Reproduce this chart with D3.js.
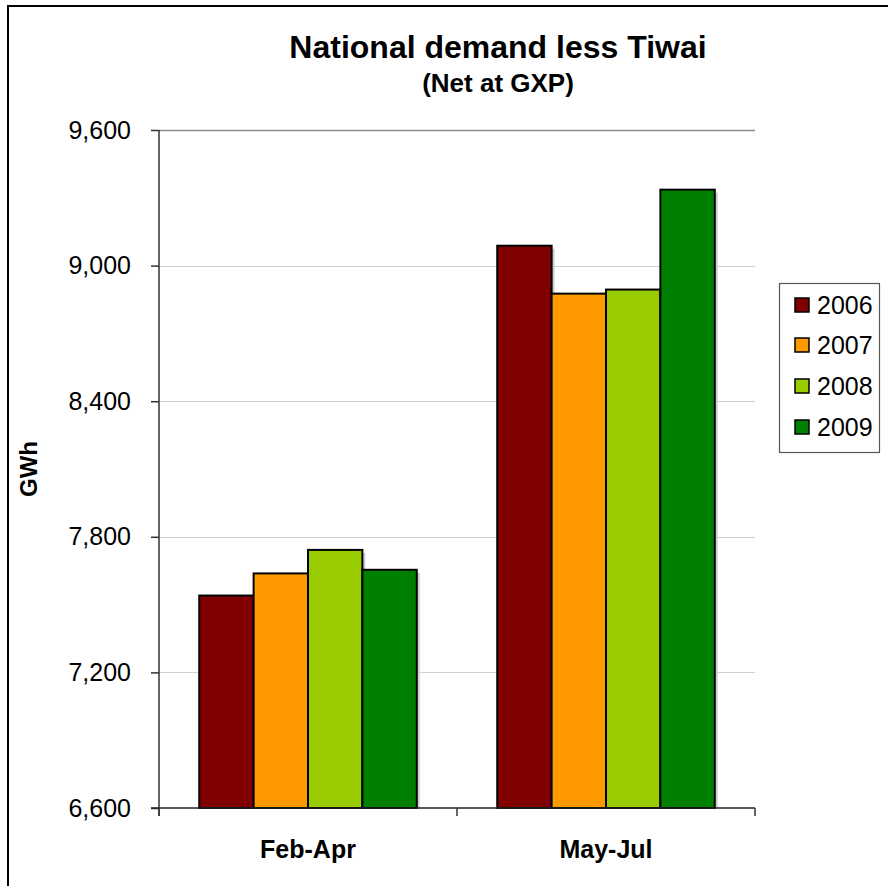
<!DOCTYPE html>
<html>
<head>
<meta charset="utf-8">
<script src="https://cdn.jsdelivr.net/npm/d3@7/dist/d3.min.js"></script>
<style>
  html, body { margin: 0; padding: 0; background: #fff; }
  svg { display: block; font-family: "Liberation Sans", Arial, sans-serif; }
</style>
</head>
<body>
<svg id="chart" width="888" height="886"></svg>
<script>
// Quarterly national demand (GWh), excluding Tiwai smelter load
const categories = ["Feb-Apr", "May-Jul"];
const years = ["2006", "2007", "2008", "2009"];
const febApr = [7540, 7638, 7742, 7654];
const mayJul = [9088, 8876, 8894, 9336];
const yTicks = [6600, 7200, 7800, 8400, 9000, 9600];
const yearColors = ["#800000", "#FF9900", "#99CC00", "#008000"];

const seriesByCategory = [febApr, mayJul];

const svg = d3.select("#chart");

// Outer chart frame
svg.append("rect")
  .attr("x", 8).attr("y", 6)
  .attr("width", 900).attr("height", 900)
  .attr("fill", "none").attr("stroke", "#000").attr("stroke-width", 2);

const plot = { left: 159, right: 755, top: 130, bottom: 808 };

const y = d3.scaleLinear()
  .domain([6600, 9600])
  .range([plot.bottom, plot.top]);

const x0 = d3.scaleBand()
  .domain(categories)
  .range([plot.left, plot.right])
  .padding(0);

const x1 = d3.scaleBand()
  .domain(years)
  .range([0, x0.bandwidth()])
  .paddingInner(0)
  .paddingOuter(0.74);

const color = d3.scaleOrdinal().domain(years).range(yearColors);

// Gridlines
svg.append("g")
  .selectAll("line")
  .data(yTicks.filter(t => t > 6600))
  .join("line")
  .attr("x1", plot.left).attr("x2", plot.right)
  .attr("y1", d => Math.round(y(d)) + 0.5).attr("y2", d => Math.round(y(d)) + 0.5)
  .attr("stroke", d => d === 9600 ? "#8c8c8c" : "#d0d0d0")
  .attr("stroke-width", d => d === 9600 ? 1.5 : 1);

// Bars (with a soft drop shadow)
const groups = svg.append("g")
  .selectAll("g")
  .data(categories.map((c, i) => ({ cat: c, values: seriesByCategory[i] })))
  .join("g")
  .attr("transform", d => `translate(${x0(d.cat)},0)`);

groups.selectAll("rect.shadow")
  .data(d => d.values.map((v, i) => ({ year: years[i], value: v })))
  .join("rect")
  .attr("class", "shadow")
  .attr("x", d => x1(d.year) + 3)
  .attr("y", d => y(d.value) + 3)
  .attr("width", x1.bandwidth())
  .attr("height", d => y(6600) - y(d.value) - 3)
  .attr("fill", "#cfcfcf");

groups.selectAll("rect.bar")
  .data(d => d.values.map((v, i) => ({ year: years[i], value: v })))
  .join("rect")
  .attr("class", "bar")
  .attr("x", d => x1(d.year))
  .attr("y", d => y(d.value))
  .attr("width", x1.bandwidth())
  .attr("height", d => y(6600) - y(d.value))
  .attr("fill", d => color(d.year))
  .attr("stroke", "#000")
  .attr("stroke-width", 2);

// Y axis
const yAxis = d3.axisLeft(y)
  .tickValues(yTicks)
  .tickFormat(d3.format(","))
  .tickSize(8)
  .tickPadding(20);

const gy = svg.append("g")
  .attr("transform", `translate(${plot.left},0)`)
  .call(yAxis);
gy.select(".domain").remove();
gy.append("line")
  .attr("x1", 0).attr("x2", 0)
  .attr("y1", plot.top).attr("y2", plot.bottom + 8)
  .attr("stroke", "#333").attr("stroke-width", 1.5);
gy.selectAll(".tick line").attr("stroke", "#333").attr("stroke-width", 1.5);
gy.selectAll(".tick text")
  .attr("font-size", 25)
  .attr("fill", "#000")
  .attr("font-family", "Liberation Sans, Arial, sans-serif");

// X axis
const xAxis = d3.axisBottom(x0).tickSize(0).tickPadding(32);
const gx = svg.append("g")
  .attr("transform", `translate(0,${plot.bottom})`)
  .call(xAxis);
gx.select(".domain").remove();
gx.append("line")
  .attr("x1", plot.left - 8).attr("x2", plot.right)
  .attr("y1", 0).attr("y2", 0)
  .attr("stroke", "#222").attr("stroke-width", 1.5);
gx.selectAll("line.sep")
  .data([plot.left, (plot.left + plot.right) / 2, plot.right])
  .join("line")
  .attr("class", "sep")
  .attr("x1", d => d).attr("x2", d => d)
  .attr("y1", 0).attr("y2", 8)
  .attr("stroke", "#333").attr("stroke-width", 1.5);
gx.selectAll(".tick text")
  .attr("font-size", 25)
  .attr("font-weight", "bold")
  .attr("fill", "#000")
  .attr("font-family", "Liberation Sans, Arial, sans-serif");

// Y axis title
svg.append("text")
  .attr("transform", `translate(37,${(plot.top + plot.bottom) / 2}) rotate(-90)`)
  .attr("text-anchor", "middle")
  .attr("font-size", 24)
  .attr("font-weight", "bold")
  .text("GWh");

// Titles
svg.append("text")
  .attr("x", 498).attr("y", 58)
  .attr("text-anchor", "middle")
  .attr("font-size", 32)
  .attr("font-weight", "bold")
  .text("National demand less Tiwai");

svg.append("text")
  .attr("x", 498).attr("y", 92)
  .attr("text-anchor", "middle")
  .attr("font-size", 26)
  .attr("font-weight", "bold")
  .text("(Net at GXP)");

// Legend
const legend = svg.append("g");
legend.append("rect")
  .attr("x", 779.5).attr("y", 283.5)
  .attr("width", 100).attr("height", 169)
  .attr("fill", "#fff").attr("stroke", "#555").attr("stroke-width", 1.2);

const legendRows = [305, 345, 386, 427];
const items = legend.selectAll("g.item")
  .data(years)
  .join("g")
  .attr("class", "item")
  .attr("transform", (d, i) => `translate(0,${legendRows[i]})`);
items.append("rect")
  .attr("x", 795).attr("y", -7)
  .attr("width", 14).attr("height", 14)
  .attr("fill", d => color(d))
  .attr("stroke", "#000").attr("stroke-width", 1.5);
items.append("text")
  .attr("x", 817).attr("y", 9)
  .attr("font-size", 25)
  .text(d => d);
</script>
</body>
</html>
